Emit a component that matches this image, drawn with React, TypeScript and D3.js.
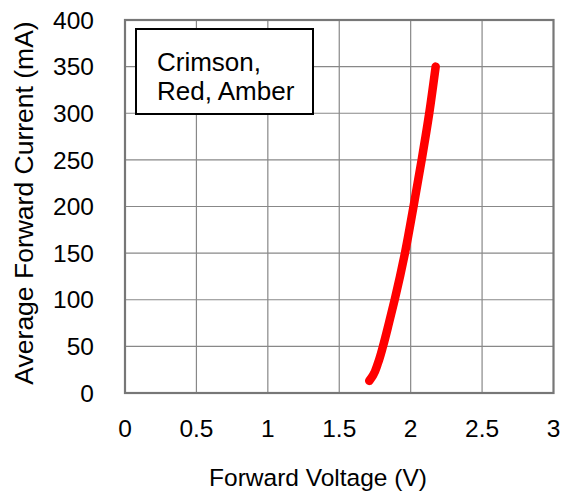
import React, { useEffect, useRef } from "react";
import * as d3 from "d3";

const voltage = [1.71, 1.737, 1.771, 1.806, 1.848, 1.888, 1.96, 2.02, 2.077, 2.13, 2.175];
const current = [13, 19, 32, 50, 75, 100, 150, 200, 250, 300, 350];
const xTicks = [0, 0.5, 1, 1.5, 2, 2.5, 3];
const yTicks = [0, 50, 100, 150, 200, 250, 300, 350, 400];
const legendLines = ["Crimson,", "Red, Amber"];
const xTitle = "Forward Voltage (V)";
const yTitle = "Average Forward Current (mA)";

const W = 568, H = 495;
const M = { left: 125, top: 20, right: 14.5, bottom: 102 };
const FONT = "Arial, 'Liberation Sans', sans-serif";

export default function App() {
  const ref = useRef<SVGSVGElement>(null);
  useEffect(() => {
    const svg = d3.select(ref.current);
    svg.selectAll("*").remove();
    const iw = W - M.left - M.right;
    const ih = H - M.top - M.bottom;
    const x = d3.scaleLinear().domain([0, 3]).range([M.left, M.left + iw]);
    const y = d3.scaleLinear().domain([0, 400]).range([M.top + ih, M.top]);

    svg.append("rect").attr("width", W).attr("height", H).attr("fill", "#fff");

    const g = svg.append("g");
    g.selectAll("line.vg").data(xTicks.slice(1, -1)).join("line")
      .attr("x1", d => x(d)).attr("x2", d => x(d))
      .attr("y1", y(0)).attr("y2", y(400))
      .attr("stroke", "#888").attr("stroke-width", 1.2);
    g.selectAll("line.hg").data(yTicks.slice(1, -1)).join("line")
      .attr("y1", d => y(d)).attr("y2", d => y(d))
      .attr("x1", x(0)).attr("x2", x(3))
      .attr("stroke", "#888").attr("stroke-width", 1.2);

    svg.append("rect")
      .attr("x", x(0)).attr("y", y(400))
      .attr("width", x(3) - x(0)).attr("height", y(0) - y(400))
      .attr("fill", "none").attr("stroke", "#777").attr("stroke-width", 2.2);

    svg.selectAll("text.xt").data(xTicks).join("text")
      .attr("x", d => x(d)).attr("y", 437)
      .attr("text-anchor", "middle")
      .attr("font-family", FONT).attr("font-size", 24.5).attr("fill", "#000")
      .text(d => String(d));
    svg.selectAll("text.yt").data(yTicks).join("text")
      .attr("x", 94).attr("y", d => y(d) + 8.7)
      .attr("text-anchor", "end")
      .attr("font-family", FONT).attr("font-size", 24.5).attr("fill", "#000")
      .text(d => String(d));

    svg.append("text")
      .attr("x", 318).attr("y", 486)
      .attr("text-anchor", "middle")
      .attr("font-family", FONT).attr("font-size", 24.5).attr("fill", "#000")
      .text(xTitle);
    svg.append("text")
      .attr("transform", `translate(33,${203}) rotate(-90)`)
      .attr("text-anchor", "middle")
      .attr("font-family", FONT).attr("font-size", 26.5).attr("fill", "#000")
      .text(yTitle);

    const data = voltage.map((v, i) => [v, current[i]] as [number, number]);
    const line = d3.line<[number, number]>()
      .x(d => x(d[0])).y(d => y(d[1]))
      .curve(d3.curveMonotoneY);
    svg.append("path").attr("d", line(data) || "")
      .attr("fill", "none").attr("stroke", "#ff0000")
      .attr("stroke-width", 8.5).attr("stroke-linecap", "round")
      .attr("stroke-linejoin", "round");

    svg.append("rect")
      .attr("x", 136).attr("y", 29).attr("width", 177).attr("height", 85)
      .attr("fill", "#fff").attr("stroke", "#000").attr("stroke-width", 2);
    svg.selectAll("text.lg").data(legendLines).join("text")
      .attr("x", 157).attr("y", (_d, i) => 70.5 + i * 29)
      .attr("font-family", FONT).attr("font-size", 26).attr("fill", "#000")
      .text(d => d);
  }, []);
  return (
    <svg ref={ref} width={W} height={H}
      style={{ position: "absolute", left: 0, top: 0, display: "block" }} />
  );
}
